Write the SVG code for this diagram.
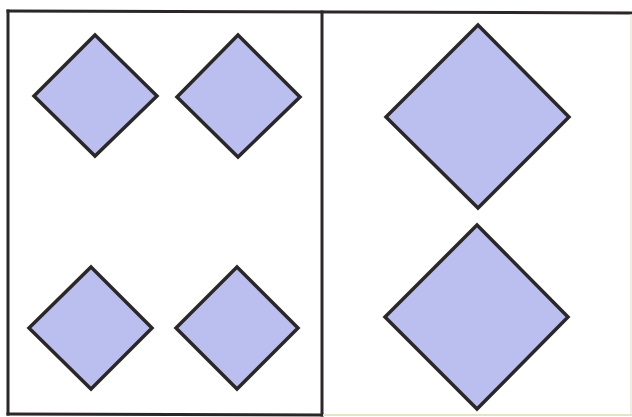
<svg xmlns="http://www.w3.org/2000/svg" width="632" height="417" viewBox="0 0 632 417">
<style>
.frame{fill:none;stroke:#2b2729;stroke-width:3;stroke-linecap:square}
.faint{fill:none;stroke:#e6e3cc;stroke-width:2}
.dia{fill:#bbbff0;stroke:#2b2729;stroke-width:3.5;stroke-linejoin:miter}
</style>
<rect width="632" height="417" fill="#ffffff"/>
<g id="frame">
<path class="frame" d="M8,11 L632,13"/>
<path class="frame" d="M8,11 L8,414"/>
<path class="frame" d="M8,414 L322,415"/>
<path class="frame" d="M322,12 L322,415"/>
<path class="faint" d="M323,415 L632,415"/>
<path class="faint" d="M631,14 L631,415" stroke-opacity="0.6"/>
</g>
<g id="d1"><polygon class="dia" points="95,35 157,96 95,156 34,96"/></g>
<g id="d2"><polygon class="dia" points="238,35 300,97 238,157 177,97"/></g>
<g id="d3"><polygon class="dia" points="91,267 152,328 91,389 29,328"/></g>
<g id="d4"><polygon class="dia" points="237,267 298,328 237,389 176,328"/></g>
<g id="d5"><polygon class="dia" points="478,25 569,117 478,208 386,117"/></g>
<g id="d6"><polygon class="dia" points="477,225 568,317 477,409 385,317"/></g>
</svg>
